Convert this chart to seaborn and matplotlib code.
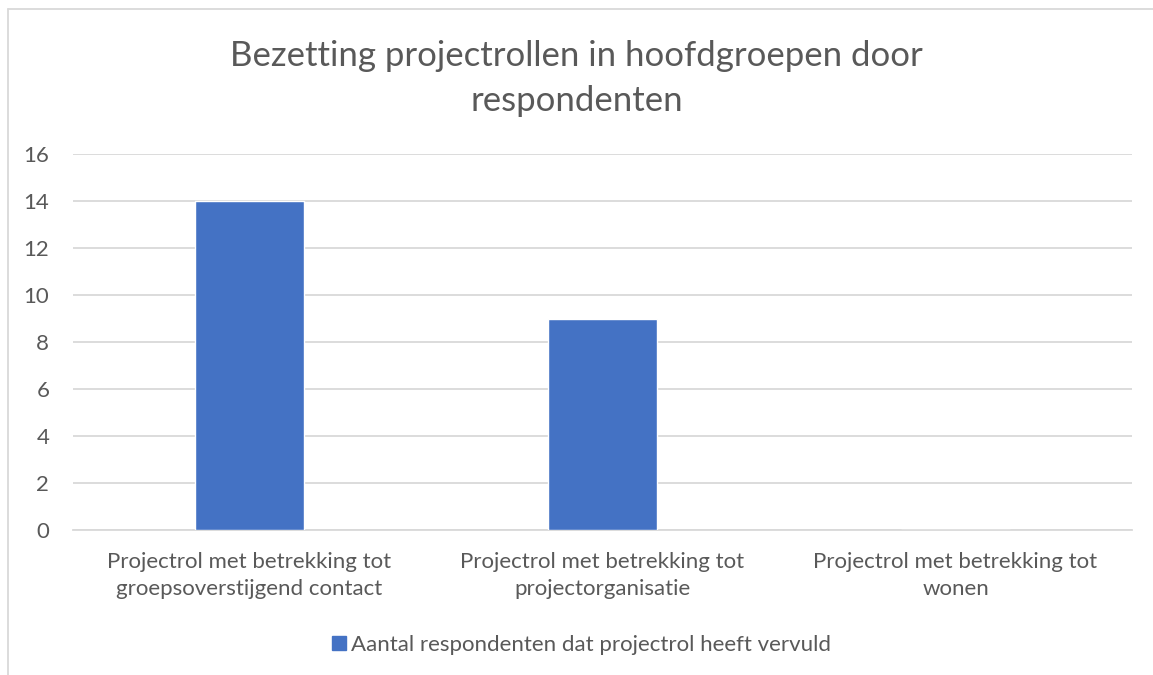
import matplotlib
matplotlib.use("Agg")
import matplotlib.pyplot as plt
import seaborn as sns
import pandas as pd
from matplotlib.lines import Line2D

categories = [
    "Projectrol met betrekking tot\ngroepsoverstijgend contact",
    "Projectrol met betrekking tot\nprojectorganisatie",
    "Projectrol met betrekking tot\nwonen",
]
values = [14, 9, 0]
series_name = "Aantal respondenten dat projectrol heeft vervuld"
title = "Bezetting projectrollen in hoofdgroepen door\nrespondenten"
yticks = [0, 2, 4, 6, 8, 10, 12, 14, 16]

df = pd.DataFrame({"rol": categories, "aantal": values})

sns.set_style("white")
plt.rcParams['font.family'] = ['Lato', 'DejaVu Sans']
text_col = "#595959"
grid_col = "#d9d9d9"
bar_col = "#4472c4"

fig = plt.figure(figsize=(11.53, 6.75), dpi=100)
ax = fig.add_axes([0.0633, 0.2148, 0.9185, 0.5570])

sns.barplot(data=df, x="rol", y="aantal", color=bar_col, width=0.31,
            saturation=1, ax=ax, zorder=3)

ax.set_ylim(0, 16)
ax.set_yticks(yticks)
ax.set_xlim(-0.5, 2.5)
ax.set_xlabel("")
ax.set_ylabel("")
ax.yaxis.grid(True, color=grid_col, linewidth=1.3, zorder=0)
for s in ["top", "right", "left"]:
    ax.spines[s].set_visible(False)
ax.spines["bottom"].set_color(grid_col)
ax.spines["bottom"].set_linewidth(1.3)
ax.tick_params(axis="both", length=0, labelsize=16, colors=text_col)
ax.tick_params(axis="x", pad=16)
ax.tick_params(axis="y", pad=17)
for lbl in ax.get_xticklabels():
    lbl.set_linespacing(1.45)

fig.text(0.5, 0.884, title, ha="center", va="center", fontsize=25,
         color=text_col, linespacing=1.5)

handle = Line2D([], [], marker="s", linestyle="none", markersize=10,
                markerfacecolor=bar_col, markeredgecolor=bar_col)
fig.legend([handle], [series_name], loc="center", bbox_to_anchor=(0.503, 0.045),
           frameon=False, fontsize=16, labelcolor=text_col,
           handletextpad=0.05, handlelength=0.9)

# chart border (top and left only visible in the crop)
fig.add_artist(Line2D([8 / 1153, 1.0], [1 - 9 / 675, 1 - 9 / 675],
                      transform=fig.transFigure, color=grid_col, linewidth=1.3))
fig.add_artist(Line2D([8 / 1153, 8 / 1153], [0, 1 - 9 / 675],
                      transform=fig.transFigure, color=grid_col, linewidth=1.3))

fig.savefig("out.png", dpi=100)
